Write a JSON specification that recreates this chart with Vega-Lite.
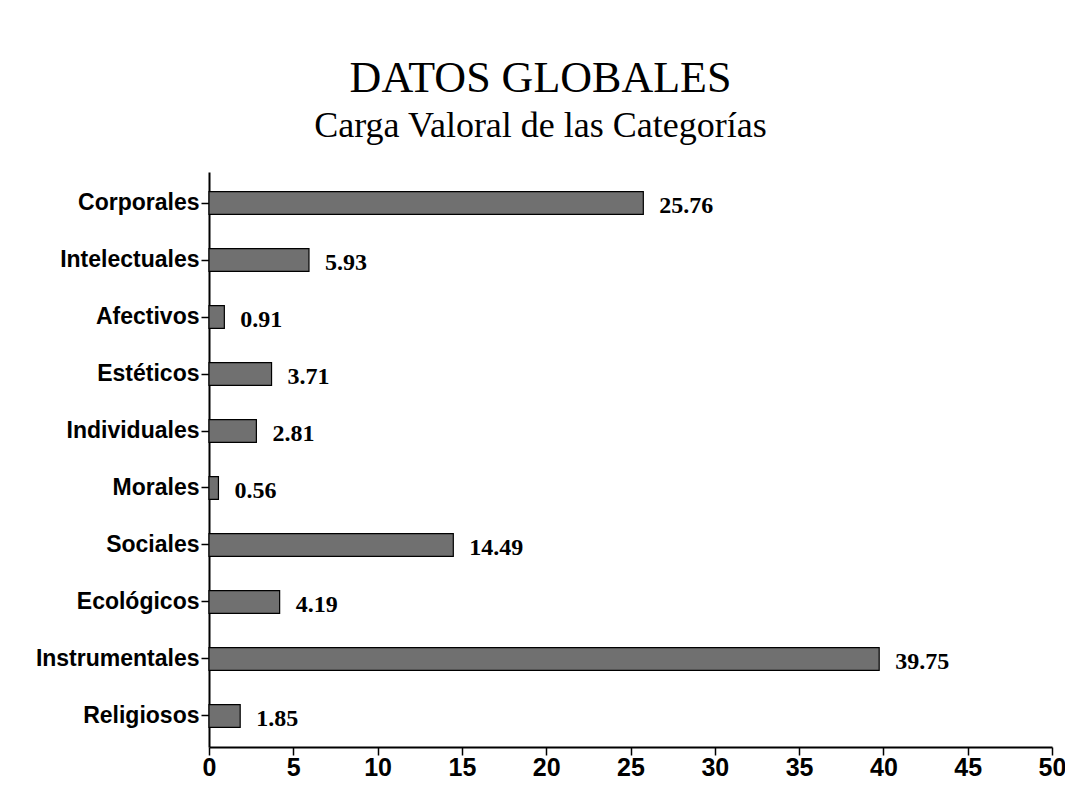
{
  "$schema": "https://vega.github.io/schema/vega-lite/v6.json",
  "autosize": {"type": "none"},
  "width": 843,
  "height": 575,
  "padding": {"left": 209, "top": 172, "right": 13, "bottom": 58},
  "background": "white",
  "title": {
    "text": "DATOS GLOBALES",
    "subtitle": "Carga Valoral de las Categorías",
    "anchor": "middle",
    "dx": -90,
    "offset": 28,
    "font": "Liberation Serif",
    "fontSize": 44,
    "fontWeight": "normal",
    "color": "black",
    "subtitleFont": "Liberation Serif",
    "subtitleFontSize": 36,
    "subtitleColor": "black",
    "subtitlePadding": 8
  },
  "data": {
    "values": [
      {"categoria": "Corporales", "valor": 25.76},
      {"categoria": "Intelectuales", "valor": 5.93},
      {"categoria": "Afectivos", "valor": 0.91},
      {"categoria": "Estéticos", "valor": 3.71},
      {"categoria": "Individuales", "valor": 2.81},
      {"categoria": "Morales", "valor": 0.56},
      {"categoria": "Sociales", "valor": 14.49},
      {"categoria": "Ecológicos", "valor": 4.19},
      {"categoria": "Instrumentales", "valor": 39.75},
      {"categoria": "Religiosos", "valor": 1.85}
    ]
  },
  "encoding": {
    "y": {
      "field": "categoria",
      "type": "nominal",
      "sort": null,
      "scale": {"paddingInner": 0.6, "paddingOuter": 0.345},
      "axis": {
        "title": null,
        "domainColor": "black",
        "domainWidth": 2,
        "tickColor": "black",
        "tickWidth": 1.5,
        "tickSize": 8,
        "labelPadding": 2,
        "labelFont": "Liberation Sans",
        "labelFontWeight": "bold",
        "labelFontSize": 23,
        "labelColor": "black"
      }
    },
    "x": {
      "field": "valor",
      "type": "quantitative",
      "scale": {"domain": [0, 50], "nice": false},
      "axis": {
        "title": null,
        "values": [0, 5, 10, 15, 20, 25, 30, 35, 40, 45, 50],
        "grid": false,
        "domainColor": "black",
        "domainWidth": 2,
        "tickColor": "black",
        "tickWidth": 1.5,
        "tickSize": 8,
        "labelPadding": 0,
        "labelFont": "Liberation Sans",
        "labelFontWeight": "bold",
        "labelFontSize": 25,
        "labelColor": "black",
        "labelFlush": false
      }
    }
  },
  "layer": [
    {
      "mark": {"type": "bar", "fill": "#707070", "stroke": "black", "strokeWidth": 1.2}
    },
    {
      "mark": {
        "type": "text",
        "align": "left",
        "baseline": "middle",
        "dx": 16,
        "dy": 3,
        "font": "Liberation Serif",
        "fontWeight": "bold",
        "fontSize": 24,
        "color": "black"
      },
      "encoding": {"text": {"field": "valor", "type": "quantitative", "format": ".2f"}}
    }
  ],
  "config": {"view": {"stroke": null}}
}
